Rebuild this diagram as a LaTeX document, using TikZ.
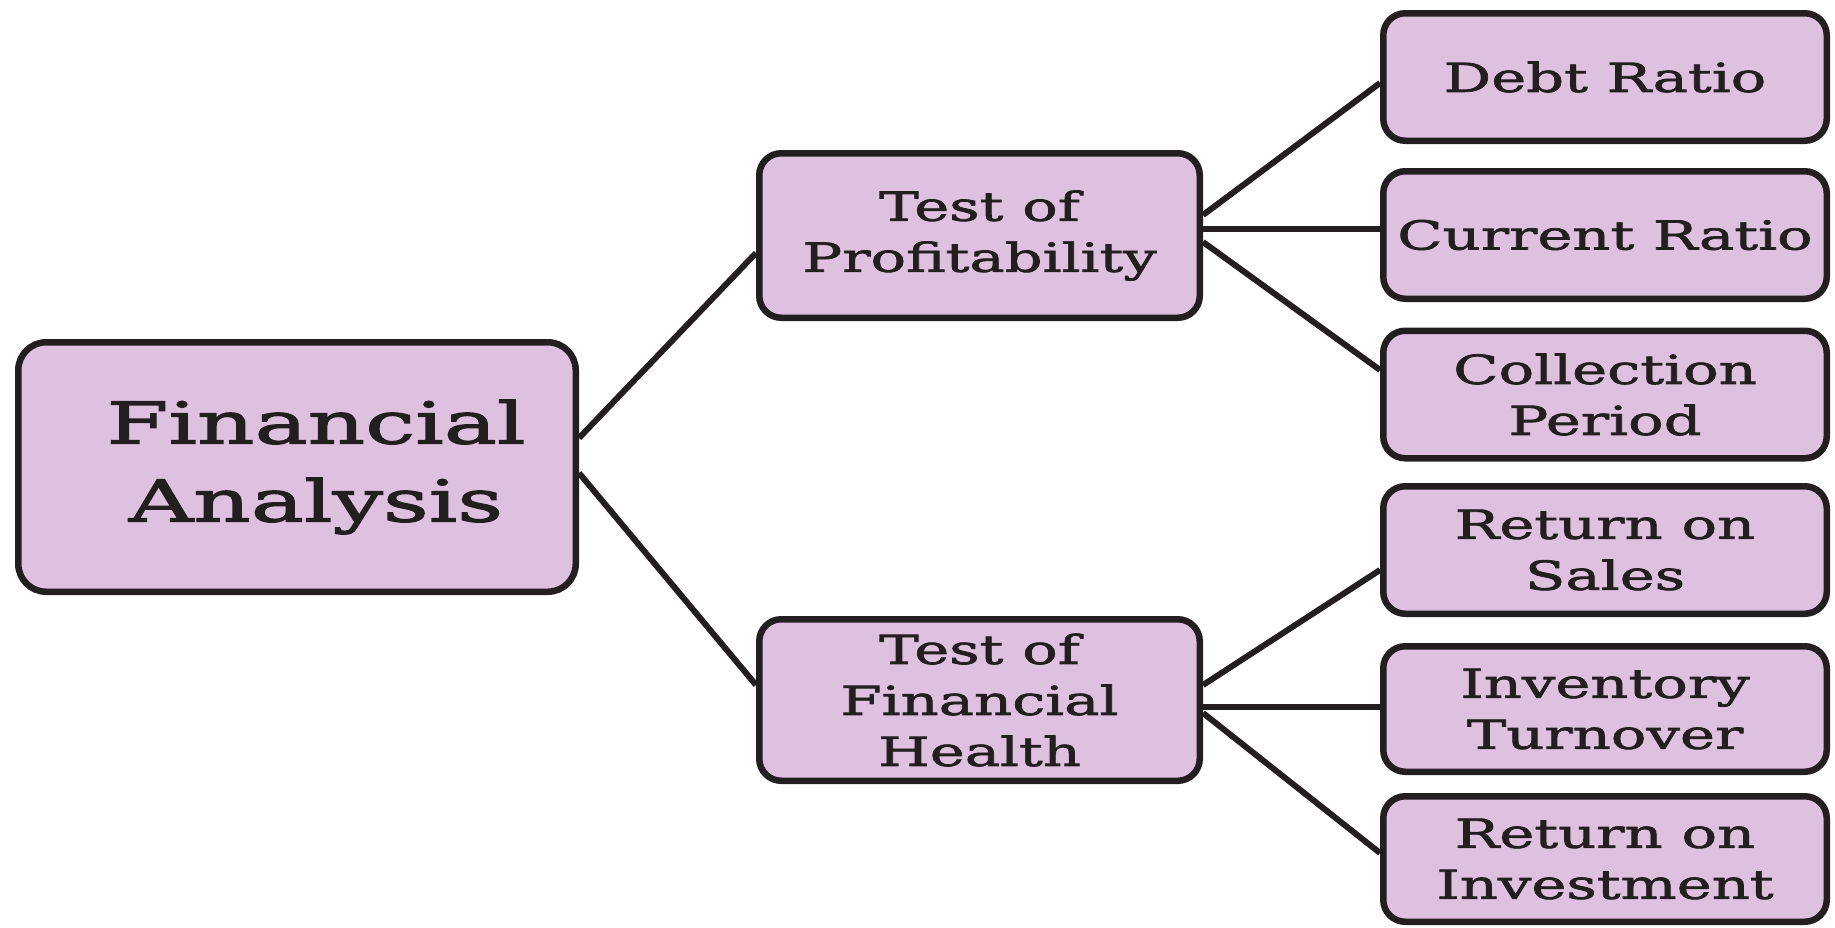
\documentclass[tikz,border=0pt]{standalone}
\usepackage{fontspec}
\setmainfont[FakeStretch=1.48,FakeBold=1.8]{DejaVu Serif}
\newfontfamily\bigfont[FakeStretch=1.55,FakeBold=2.2]{DejaVu Serif}
\definecolor{boxc}{RGB}{222,193,222}
\definecolor{linec}{RGB}{35,31,32}
\begin{document}
\begin{tikzpicture}[x=0.5pt,y=-0.5pt,
  box/.style={draw=linec, line width=3.25pt, fill=boxc, rounded corners=11pt,
    align=center, text=linec, inner sep=0pt, font=\fontsize{20}{25.5}\selectfont},
  midbox/.style={box, minimum width=220.25pt},
  rbox/.style={box, minimum width=221.75pt, minimum height=63.75pt},
  conn/.style={draw=linec, line width=3pt}]
\useasboundingbox[fill=white] (0,0) rectangle (1835,927);
% root
\node[box, rounded corners=14pt, minimum width=278.75pt, minimum height=124.75pt] (fa) at (297,467) {};
\node[text=linec, align=center, inner sep=0pt, font=\bigfont\fontsize{28.8}{39}\selectfont] (fatext) at (316,467) {Financial\\Analysis};
% middle
\node[midbox, minimum height=82.25pt] (top) at (979.5,235.5) {Test of\\Profitability};
\node[midbox, minimum height=80.75pt] (tfh) at (979.5,700) {Test of\\Financial\\Health};
% right
\node[rbox] (debt) at (1605,77) {Debt Ratio};
\node[rbox] (cur) at (1605,235) {Current Ratio};
\node[rbox] (col) at (1605,394.5) {Collection\\Period};
\node[rbox] (ros) at (1605,550) {Return on\\Sales};
\node[rbox, minimum height=62.75pt] (inv) at (1605,709) {Inventory\\Turnover};
\node[rbox, minimum height=62.75pt] (roi) at (1605,859) {Return on\\Investment};
% connectors
\draw[conn] ([yshift=14.5pt]fa.east) -- ([yshift=-8.75pt]top.west);
\draw[conn] ([yshift=-3pt]fa.east) -- ([yshift=7.5pt]tfh.west);
\draw[conn] ([yshift=10.25pt]top.east) -- ([yshift=-3pt]debt.west);
\draw[conn] ([yshift=3.25pt]top.east) -- ([yshift=3pt]cur.west);
\draw[conn] ([yshift=-3.25pt]top.east) -- ([yshift=12.25pt]col.west);
\draw[conn] ([yshift=7.5pt]tfh.east) -- ([yshift=-10pt]ros.west);
\draw[conn] ([yshift=-3.5pt]tfh.east) -- ([yshift=1pt]inv.west);
\draw[conn] ([yshift=-6.5pt]tfh.east) -- ([yshift=3pt]roi.west);
\end{tikzpicture}
\end{document}
